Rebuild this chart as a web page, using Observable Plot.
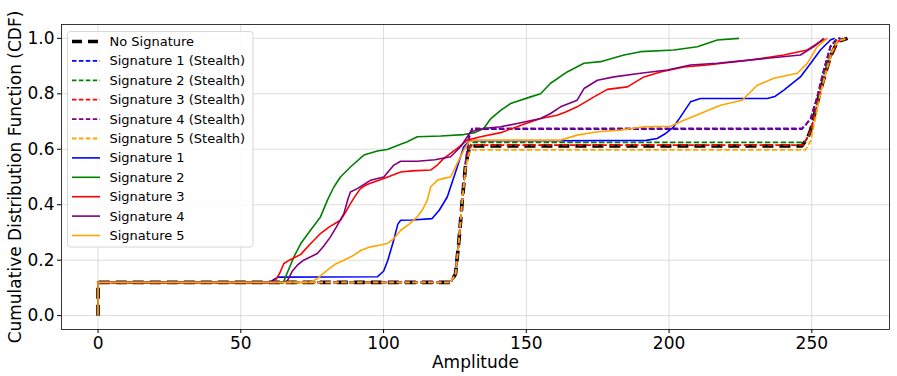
<!DOCTYPE html>
<html>
<head>
<meta charset="utf-8">
<script src="https://cdn.jsdelivr.net/npm/d3@7"></script>
<script src="https://cdn.jsdelivr.net/npm/@observablehq/plot@0.6"></script>
<style>
  html, body { margin: 0; padding: 0; background: #fff; }
  #wrap { position: relative; width: 897px; height: 376px; font-family: "DejaVu Sans", sans-serif; }
  #legend { position: absolute; left: 0; top: 0; }
</style>
</head>
<body>
<div id="wrap"></div>
<script>
// ---- Data ----
const xTicks = [0, 50, 100, 150, 200, 250];
const yTicks = [0.0, 0.2, 0.4, 0.6, 0.8, 1.0];

const noSignature = [[0,0],[0,0.12],[123.5,0.12],[125.2,0.15],[126.4,0.27],[127.6,0.42],[128.7,0.54],[129.9,0.6],[131,0.612],[246.5,0.612],[248.5,0.64],[249.6,0.67],[251.3,0.74],[253,0.813],[254.8,0.875],[256.5,0.934],[258.9,0.988],[262.5,1.0]];
const stealth1 = [[0,0],[0,0.12],[123.5,0.12],[125.2,0.15],[126.4,0.27],[127.6,0.42],[128.7,0.55],[129.9,0.64],[131,0.673],[246.5,0.673],[248,0.69],[249.6,0.711],[251.9,0.789],[254.2,0.886],[256.5,0.97],[258.9,1.0],[260,1.0]];
const stealth2 = [[0,0],[0,0.12],[123.5,0.12],[125.2,0.15],[126.4,0.27],[127.6,0.42],[128.7,0.54],[129.9,0.605],[131,0.625],[247.5,0.625],[249,0.65],[250.5,0.7],[252.5,0.8],[254.5,0.88],[256.5,0.94],[258.5,0.985],[261,1.0]];
const stealth3 = [[0,0],[0,0.12],[123.5,0.12],[125.2,0.15],[126.4,0.27],[127.6,0.42],[128.7,0.54],[129.9,0.6],[131,0.615],[246.8,0.615],[248.6,0.645],[249.8,0.675],[251.5,0.745],[253.2,0.815],[255,0.878],[256.7,0.935],[259,0.988],[262,1.0]];
const stealth4 = [[0,0],[0,0.12],[123.5,0.12],[125.2,0.15],[126.4,0.27],[127.6,0.42],[128.7,0.55],[129.9,0.645],[131,0.675],[246.5,0.675],[248,0.69],[249.6,0.711],[251.9,0.789],[254.2,0.886],[256.5,0.97],[258.9,1.0],[260,1.0]];
const stealth5 = [[0,0],[0,0.12],[123.5,0.12],[125.2,0.15],[126.4,0.27],[127.6,0.42],[128.7,0.53],[129.9,0.585],[131,0.598],[247.8,0.598],[249.6,0.63],[251,0.7],[253,0.8],[255,0.88],[257,0.95],[259,0.99],[262.5,1.0]];

const sig1 = [[0,0],[0,0.12],[60.4,0.12],[61.5,0.13],[63,0.139],[97.8,0.14],[100,0.16],[101.5,0.2],[103.5,0.27],[105,0.33],[106,0.344],[110,0.345],[117,0.35],[119.5,0.38],[122.3,0.428],[124,0.48],[125.8,0.536],[128.1,0.609],[129.8,0.628],[131,0.631],[160,0.631],[192,0.632],[195.8,0.639],[198.5,0.655],[201.6,0.681],[204,0.717],[207.5,0.771],[211,0.783],[234.4,0.783],[237,0.79],[240.2,0.813],[246,0.861],[249.6,0.91],[253,0.958],[256.5,0.994],[258,1.0]];
const sig2 = [[0,0],[0,0.12],[64.9,0.12],[66.5,0.16],[68.6,0.212],[71,0.26],[74.4,0.308],[77.9,0.356],[80.5,0.42],[82.6,0.464],[84.9,0.5],[88.4,0.536],[93.1,0.579],[97.8,0.594],[101.3,0.599],[106,0.618],[108.3,0.627],[111.8,0.645],[120,0.648],[128.1,0.653],[132,0.66],[135.1,0.675],[137.5,0.71],[141,0.74],[144.5,0.765],[151.5,0.789],[155,0.8],[158.5,0.838],[164.3,0.879],[170.2,0.91],[176,0.916],[184.2,0.94],[190,0.952],[201.7,0.958],[209.9,0.97],[216.9,0.994],[224.5,1.0]];
const sig3 = [[0,0],[0,0.12],[61.6,0.12],[63.5,0.15],[65.1,0.188],[67,0.2],[70.9,0.22],[74.5,0.26],[77.9,0.296],[81,0.32],[84.9,0.344],[86.5,0.37],[88.4,0.404],[90,0.43],[91.9,0.458],[94,0.472],[96.6,0.482],[100.1,0.495],[106,0.518],[110,0.522],[116.5,0.525],[119,0.545],[121.1,0.567],[125.8,0.603],[129.3,0.633],[134,0.645],[141,0.66],[149.1,0.69],[155,0.711],[160.8,0.723],[164,0.735],[167.8,0.753],[173.7,0.789],[178.4,0.816],[185.4,0.825],[191.2,0.861],[197,0.879],[205.2,0.897],[213.4,0.904],[228.5,0.922],[240.2,0.94],[248.4,0.958],[251,0.975],[253,0.988],[255.4,1.0]];
const sig4 = [[0,0],[0,0.12],[64.5,0.12],[66.3,0.125],[68,0.16],[69.8,0.182],[72,0.2],[76.8,0.224],[79,0.25],[81.4,0.284],[83.5,0.32],[86.1,0.368],[87.5,0.42],[88.4,0.446],[90.8,0.458],[95.4,0.488],[100.1,0.5],[103.6,0.543],[106,0.557],[111.8,0.557],[118,0.562],[123.5,0.573],[127,0.609],[130.5,0.663],[135,0.675],[141,0.681],[146.8,0.693],[155,0.711],[158.5,0.729],[162,0.753],[167.8,0.777],[170.2,0.819],[174.9,0.849],[180.7,0.861],[190,0.874],[199.4,0.886],[207.5,0.904],[216.9,0.91],[222.7,0.916],[234.4,0.928],[246,0.94],[250.7,0.97],[254.2,1.0]];
const sig5 = [[0,0],[0,0.12],[74.4,0.12],[77,0.135],[80.3,0.164],[83,0.185],[86.1,0.2],[89.6,0.218],[92,0.235],[95.4,0.248],[99,0.255],[101.3,0.26],[103.6,0.278],[106,0.308],[109,0.33],[111.8,0.356],[113.5,0.38],[115.3,0.416],[116.5,0.464],[118.8,0.488],[121,0.495],[123.5,0.5],[125.8,0.549],[128.1,0.597],[129.9,0.627],[132,0.633],[162,0.633],[167.8,0.651],[174.9,0.663],[183,0.669],[191.2,0.681],[200.5,0.683],[205.2,0.705],[211,0.729],[218,0.759],[225.6,0.777],[230.9,0.831],[236.7,0.856],[244.9,0.874],[248.4,0.91],[251.9,0.97],[255.4,1.0]];

const seriesNames = ["No Signature","Signature 1 (Stealth)","Signature 2 (Stealth)","Signature 3 (Stealth)","Signature 4 (Stealth)","Signature 5 (Stealth)","Signature 1","Signature 2","Signature 3","Signature 4","Signature 5"];
const seriesData = [noSignature, stealth1, stealth2, stealth3, stealth4, stealth5, sig1, sig2, sig3, sig4, sig5];
const seriesColors = ["black","blue","green","red","purple","orange","blue","green","red","purple","orange"];
const seriesDash = ["11,6","5.5,2.4","5.5,2.4","5.5,2.4","5.5,2.4","5.5,2.4",null,null,null,null,null];
const seriesWidth = [3.6,1.8,1.8,1.8,1.8,1.8,1.6,1.6,1.6,1.6,1.6];

// ---- Chart ----
const W = 897, H = 376;
const mL = 61, mR = 8, mT = 24, mB = 47;

const lineMarks = seriesData.map((d, i) => Plot.line(d, {
  x: p => p[0], y: p => p[1],
  stroke: seriesColors[i], strokeWidth: seriesWidth[i],
  strokeDasharray: seriesDash[i] || undefined,
  strokeLinecap: "butt", strokeLinejoin: "round"
}));

const chart = Plot.plot({
  width: W, height: H,
  marginLeft: mL, marginRight: mR, marginTop: mT, marginBottom: mB,
  style: { fontFamily: "DejaVu Sans, sans-serif", fontSize: "17px", color: "black", background: "white", overflow: "visible" },
  x: { domain: [-12.8, 277.2], label: null },
  y: { domain: [-0.05, 1.05], label: null },
  marks: [
    Plot.gridX(xTicks, { stroke: "#b0b0b0", strokeOpacity: 0.55, strokeWidth: 0.8 }),
    Plot.gridY(yTicks, { stroke: "#b0b0b0", strokeOpacity: 0.55, strokeWidth: 0.8 }),
    ...lineMarks,
    Plot.frame({ stroke: "#222", strokeWidth: 0.9 }),
    Plot.axisX(xTicks, { tickSize: 4, tickPadding: 3, fontSize: 17, tickFormat: d => String(d), label: null }),
    Plot.axisY(yTicks, { tickSize: 4, tickPadding: 3, fontSize: 17, tickFormat: d => d.toFixed(1), label: null }),
    Plot.text(["Amplitude"], { frameAnchor: "bottom", dy: 33, fontSize: 17, lineAnchor: "middle", textAnchor: "middle" }),
    Plot.text(["Cumulative Distribution Function (CDF)"], { frameAnchor: "left", dx: -46, rotate: -90, fontSize: 17, textAnchor: "middle", lineAnchor: "middle" })
  ]
});

const wrap = document.getElementById("wrap");
wrap.appendChild(chart);

// ---- Legend (overlay, like matplotlib's upper-left legend) ----
const lg = d3.select(wrap).append("svg")
  .attr("id", "legend").attr("width", W).attr("height", H)
  .style("pointer-events", "none");
const boxX = 67.5, boxY = 31.5, boxW = 185.5, boxH = 215.5, rowH = 19.4, row0 = 41.5;
lg.append("rect").attr("x", boxX).attr("y", boxY).attr("width", boxW).attr("height", boxH)
  .attr("rx", 3).attr("fill", "white").attr("fill-opacity", 0.85)
  .attr("stroke", "#d6d6d6").attr("stroke-width", 1);
seriesNames.forEach((name, i) => {
  const y = row0 + i * rowH;
  lg.append("line").attr("x1", 72).attr("x2", 100).attr("y1", y).attr("y2", y)
    .attr("stroke", seriesColors[i]).attr("stroke-width", seriesWidth[i])
    .attr("stroke-dasharray", seriesDash[i] ? (i === 0 ? "10,6" : "4.5,2.4") : null);
  lg.append("text").attr("x", 109.5).attr("y", y).attr("dy", "0.35em")
    .attr("font-family", "DejaVu Sans, sans-serif").attr("font-size", 13)
    .attr("fill", "black").text(name);
});
</script>
</body>
</html>
